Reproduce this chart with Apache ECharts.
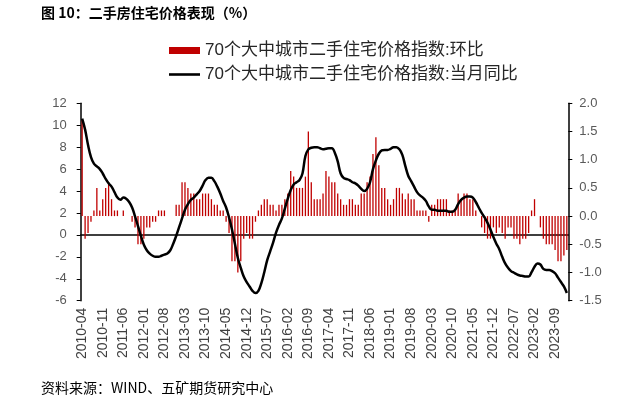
<!DOCTYPE html>
<html>
<head>
<meta charset="utf-8">
<script src="https://cdn.jsdelivr.net/npm/echarts@6/dist/echarts.min.js"></script>
<style>
  html, body { margin: 0; padding: 0; background: #fff; }
  #chart { width: 629px; height: 397px; }
</style>
</head>
<body>
<div id="chart"></div>
<script>
// 月份：2010-04 ~ 2024-01
var months = [];
for (var y = 2010, m = 4; y < 2024 || (y === 2024 && m <= 1); m++) {
    if (m > 12) { m = 1; y++; }
    if (y === 2024 && m > 1) break;
    months.push(y + '-' + (m < 10 ? '0' + m : m));
}

// 70个大中城市二手住宅价格指数:环比（右轴）
var momValues = [
    1.7, -0.4, -0.3, -0.1, 0.1, 0.5, 0.1, 0.3, 0.5, 0.6, 0.3, 0.1,
    0.1, 0, 0.1, 0, 0, -0.1, -0.2, -0.5, -0.5, -0.4, -0.2, -0.2,
    -0.1, -0.1, 0.1, 0.1, 0.1, 0, 0, 0, 0.2, 0.2, 0.6, 0.6,
    0.5, 0.4, 0.4, 0.3, 0.3, 0.4, 0.4, 0.4, 0.3, 0.2, 0.2, 0.1,
    0.1, -0.1, -0.3, -0.8, -0.8, -1.0, -0.8, -0.4, -0.3, -0.4, -0.4, -0.1,
    0.1, 0.2, 0.3, 0.3, 0.2, 0.2, 0.1, 0.2, 0.2, 0.3, 0.4, 0.8,
    0.7, 0.5, 0.5, 0.5, 0.7, 1.5, 0.6, 0.3, 0.3, 0.3, 0.4, 0.8,
    0.7, 0.6, 0.6, 0.4, 0.3, 0.2, 0.2, 0.3, 0.3, 0.2, 0.2, 0.4,
    0.4, 0.6, 0.7, 1.1, 1.4, 0.9, 0.5, 0.5, 0.3, 0.2, 0.3, 0.5,
    0.5, 0.4, 0.3, 0.4, 0.3, 0.3, 0.1, 0.1, 0.1, 0.1, -0.1, 0.2,
    0.2, 0.3, 0.3, 0.3, 0.3, 0.1, 0.1, 0.1, 0.4, 0.3, 0.4, 0.4,
    0.3, 0.3, 0.1, 0, -0.2, -0.3, -0.4, -0.4, -0.2, -0.3, -0.2, -0.3,
    -0.4, -0.2, -0.2, -0.4, -0.4, -0.5, -0.4, -0.4, -0.3, 0.1, 0.3, 0,
    -0.2, -0.4, -0.5, -0.5, -0.5, -0.6, -0.8, -0.8, -0.7, -0.6
];

// 70个大中城市二手住宅价格指数:当月同比（左轴）
var yoyValues = [
    10.6, 9.6, 8.2, 7.1, 6.5, 6.25, 6.0, 5.6, 5.1, 4.7, 4.4, 3.9,
    3.4, 3.2, 3.4, 3.3, 3.0, 2.5, 1.7, 0.8, -0.1, -0.9, -1.4, -1.7,
    -1.9, -2.0, -2.0, -1.9, -1.8, -1.7, -1.4, -0.8, -0.1, 0.7, 1.5, 2.3,
    2.8, 3.2, 3.4, 3.7, 4.0, 4.5, 5.0, 5.2, 5.2, 4.9, 4.4, 3.8,
    3.1, 2.5, 1.6, 0.5, -0.8, -2.1, -3.0, -3.8, -4.3, -4.7, -5.1, -5.3,
    -5.1, -4.4, -3.4, -2.3, -1.5, -0.7, 0.2, 0.9, 1.5, 2.4, 3.3, 4.1,
    4.6, 4.8, 5.0, 5.6, 7.2, 7.8, 7.95, 8.0, 8.0, 7.9, 7.8, 7.85,
    7.9, 7.9, 7.5, 6.7, 5.6, 5.2, 5.1, 5.0, 4.8, 4.7, 4.5, 4.2,
    4.0, 4.2, 4.8, 6.0, 6.8, 7.4, 7.7, 7.75, 7.75, 7.85, 8.0, 8.0,
    7.8, 7.3, 6.3, 5.4, 4.9, 4.4, 3.9, 3.6, 3.4, 3.1, 2.6, 2.3,
    2.3, 2.2, 2.2, 2.2, 2.2, 2.1, 2.1, 2.3, 2.8, 3.2, 3.4, 3.5,
    3.5, 3.4, 3.0, 2.5, 2.0, 1.6, 1.1, 0.5, -0.2, -0.8, -1.3, -2.0,
    -2.6, -3.0, -3.3, -3.45, -3.6, -3.7, -3.75, -3.8, -3.8, -3.4, -2.9, -2.6,
    -2.7, -3.1, -3.2, -3.2, -3.3, -3.5, -3.9, -4.3, -4.7, -5.3
];

var chart = echarts.init(document.getElementById('chart'));

var numFont = 'Liberation Sans, Arial, sans-serif';
var cjkFont = 'Liberation Sans, Noto Sans CJK SC, sans-serif';

option = {
    backgroundColor: '#fff',
    animation: false,
    title: [
        {
            text: '图 10：二手房住宅价格表现（%）',
            left: 36,
            top: 1,
            textStyle: { fontSize: 14, fontWeight: 'bold', color: '#000', fontFamily: 'Noto Sans CJK SC' }
        },
        {
            text: '资料来源：WIND、五矿期货研究中心',
            left: 36,
            top: 376,
            textStyle: { fontSize: 14, fontWeight: 'normal', color: '#000', fontFamily: 'Noto Sans CJK SC' }
        }
    ],
    legend: {
        orient: 'vertical',
        left: 164,
        top: 37,
        itemGap: 7,
        itemWidth: 31,
        itemHeight: 7,
        textStyle: { fontSize: 17, color: '#262626', fontFamily: cjkFont },
        data: [
            { name: '70个大中城市二手住宅价格指数:环比', icon: 'rect' },
            { name: '70个大中城市二手住宅价格指数:当月同比', icon: 'path://M0,0 L31,0 L31,2.6 L0,2.6 Z' }
        ]
    },
    grid: { left: 80.7, right: 60.7, top: 103.3, bottom: 96.3 },
    xAxis: {
        type: 'category',
        data: months,
        boundaryGap: true,
        axisLine: { lineStyle: { color: '#000', width: 1.5 } },
        axisTick: { interval: 6, length: 5, lineStyle: { color: '#000', width: 1.2 } },
        axisLabel: {
            interval: 6,
            rotate: 90,
            margin: 7,
            fontSize: 14,
            color: '#404040',
            fontFamily: numFont
        },
        splitLine: { show: false }
    },
    yAxis: [
        {
            type: 'value',
            min: -6,
            max: 12,
            interval: 2,
            axisLine: { show: true, lineStyle: { color: '#000', width: 1.5 } },
            axisTick: { show: true, length: 4, lineStyle: { color: '#000' } },
            axisLabel: { fontSize: 13, color: '#595959', margin: 14, fontFamily: numFont },
            splitLine: { show: false }
        },
        {
            type: 'value',
            min: -1.5,
            max: 2,
            interval: 0.5,
            position: 'right',
            axisLine: { show: true, lineStyle: { color: '#000', width: 1.5 } },
            axisTick: { show: true, length: 4, lineStyle: { color: '#000' } },
            axisLabel: {
                fontSize: 13, color: '#595959', margin: 11, fontFamily: numFont,
                formatter: function (v) { return v.toFixed(1); }
            },
            splitLine: { show: false }
        }
    ],
    series: [
        {
            name: '70个大中城市二手住宅价格指数:环比',
            type: 'bar',
            yAxisIndex: 1,
            data: momValues,
            barWidth: 1.3,
            itemStyle: { color: '#C00000' }
        },
        {
            name: '70个大中城市二手住宅价格指数:当月同比',
            type: 'line',
            yAxisIndex: 0,
            data: yoyValues,
            smooth: 0.4,
            symbol: 'none',
            itemStyle: { color: '#000' },
            lineStyle: { color: '#000', width: 2.5 }
        }
    ]
};

chart.setOption(option);
</script>
</body>
</html>
